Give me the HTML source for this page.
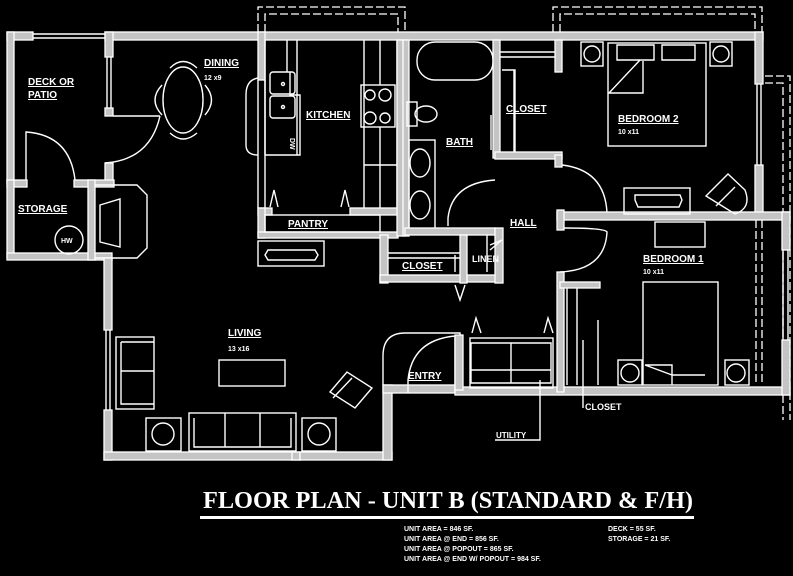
<!DOCTYPE html>
<html><head><meta charset="utf-8"><style>
html,body{margin:0;padding:0;background:#000;}
svg{display:block}
.w{fill:#c4c4c4;stroke:#fff;stroke-width:1.3}
.l{fill:none;stroke:#fff;stroke-width:1.4}
.d{fill:none;stroke:#fff;stroke-width:1.3;stroke-dasharray:8 3}
.t{font-family:"Liberation Sans",sans-serif;font-weight:bold;fill:#fff;font-size:10px;text-decoration:underline}
.s{font-family:"Liberation Sans",sans-serif;font-weight:bold;fill:#fff;font-size:7px}
</style></head><body>
<svg width="793" height="576" viewBox="0 0 793 576" xmlns="http://www.w3.org/2000/svg">
<rect width="793" height="576" fill="#000"/>
<path class="d" d="M258 32 V7 H405 V32 M265 32 V14 H398 V32"/>
<path class="d" d="M553 32 V7 H762 V32 M560 32 V14 H755 V32"/>
<path class="d" d="M765 76 H790 V420 M765 83 H783 V420"/>
<rect class="w" x="7" y="32" width="26" height="8"/>
<path class="l" d="M33 34 H105 M33 38 H105"/>
<rect class="w" x="7" y="32" width="7" height="150"/>
<rect class="w" x="105" y="32" width="658" height="8"/>
<rect class="w" x="755" y="32" width="8" height="52"/>
<rect class="w" x="755" y="165" width="8" height="52"/>
<path class="l" d="M757 84 V165 M761 84 V165"/>
<rect class="w" x="105" y="32" width="8" height="25"/>
<path class="l" d="M107 57 V110 M111 57 V110"/>
<rect class="w" x="105" y="108" width="8" height="8"/>
<rect class="w" x="105" y="163" width="8" height="22"/>
<path class="l" d="M113 116 H160 M105 163 Q150 160 160 116"/>
<path class="l" d="M26 182 V132 Q70 135 75 180"/>
<rect class="w" x="7" y="180" width="20" height="7"/>
<rect class="w" x="74" y="180" width="40" height="7"/>
<rect class="w" x="7" y="180" width="7" height="78"/>
<rect class="w" x="7" y="253" width="105" height="7"/>
<rect class="w" x="88" y="180" width="7" height="80"/>
<text class="t" x="18" y="212">STORAGE</text>
<circle class="l" cx="69" cy="240" r="14"/>
<text class="s" x="61" y="243">HW</text>
<path class="l" d="M95 185 H137 L147 195 V248 L137 258 H95 M100 205 L120 199 V247 L100 242 Z"/>
<rect class="w" x="104" y="258" width="8" height="72"/>
<path class="l" d="M106 330 V410 M110 330 V410"/>
<rect class="w" x="104" y="410" width="8" height="50"/>
<rect class="w" x="104" y="452" width="196" height="8"/>
<rect class="w" x="292" y="452" width="8" height="8"/>
<rect class="w" x="300" y="452" width="92" height="8" />
<rect class="w" x="383" y="385" width="9" height="75"/>
<rect class="w" x="383" y="385" width="76" height="8"/>
<path class="l" d="M383 385 V356 Q383 333 405 333 H460 V393"/>
<path class="l" d="M408 393 V380 Q412 340 455 336 V393"/>
<text class="t" x="408" y="379">ENTRY</text>
<rect class="w" x="455" y="387" width="335" height="8"/>
<rect class="w" x="455" y="335" width="8" height="55"/>
<rect class="l" x="470" y="338" width="83" height="50"/>
<path class="l" d="M471 343 H551 V383 H471 Z M511 343 V383 M471 370 H551"/>
<path class="l" d="M472 333 L476 318 L481 333 M544 333 L548 318 L553 333"/>
<path class="l" d="M540 380 V440 H495"/>
<text class="s" x="496" y="438" style="font-size:8px">UTILITY</text>
<rect class="w" x="258" y="32" width="7" height="48"/>
<path class="l" d="M258 80 V208 M265 80 V208"/>
<path class="l" d="M265 40 V155 M297 40 V155 M287 40 V72 M265 155 H300 V95 H290 V72"/>
<path class="l" d="M258 78 Q246 80 246 95 V145 Q246 155 258 155"/>
<rect class="l" x="270" y="72" width="25" height="22" rx="3"/>
<rect class="l" x="270" y="96" width="25" height="22" rx="3"/>
<circle class="l" cx="283" cy="84" r="1.5"/><circle class="l" cx="283" cy="107" r="1.5"/>
<text class="s" x="290" y="138" transform="rotate(90 290 138)">DW</text>
<rect class="l" x="361" y="85" width="34" height="42"/>
<circle class="l" cx="370" cy="95" r="5"/><circle class="l" cx="385" cy="95" r="6"/>
<circle class="l" cx="370" cy="118" r="6"/><circle class="l" cx="385" cy="118" r="5"/>
<path class="l" d="M364 40 V208 M397 40 V208 M380 40 V85 M380 127 V208 M364 165 H397 M364 85 V127"/>
<text class="t" x="306" y="118">KITCHEN</text>
<path class="l" d="M270 207 L274 190 L278 207 M341 207 L345 190 L349 207"/>
<rect class="w" x="258" y="208" width="14" height="7"/>
<rect class="w" x="350" y="208" width="50" height="7"/>
<rect class="w" x="258" y="208" width="7" height="30"/>
<rect class="w" x="258" y="232" width="140" height="6"/>
<rect class="l" x="265" y="215" width="115" height="17"/>
<text class="t" x="288" y="227">PANTRY</text>
<rect class="l" x="258" y="241" width="66" height="25"/>
<path class="l" d="M268 250 H315 L318 255 L315 260 H268 L265 255 Z"/>
<rect class="w" x="397" y="40" width="8" height="196"/>
<text class="t" x="204" y="66">DINING</text>
<text class="s" x="204" y="80">12 x9</text>
<ellipse class="l" cx="183" cy="100" rx="20" ry="33"/>
<path class="l" d="M170 68 Q183 55 197 68 M170 133 Q183 145 197 133 M162 85 Q148 100 162 115 M205 85 Q218 100 205 115"/>
<rect class="w" x="403" y="40" width="6" height="196"/>
<rect class="l" x="417" y="42" width="76" height="38" rx="18"/>
<ellipse class="l" cx="426" cy="114" rx="11" ry="8"/>
<rect class="l" x="407" y="102" width="10" height="24"/>
<rect class="l" x="409" y="140" width="26" height="92"/>
<ellipse class="l" cx="420" cy="163" rx="10" ry="14"/>
<ellipse class="l" cx="420" cy="205" rx="10" ry="14"/>
<text class="t" x="446" y="145">BATH</text>
<rect class="w" x="493" y="40" width="7" height="118"/>
<rect class="w" x="405" y="228" width="90" height="7"/>
<path class="l" d="M448 226 V218 Q452 183 495 180"/>
<path class="l" d="M491 115 V150"/>
<path class="l" d="M500 52 H555 M500 57 H555 M502 70 H515 V153 M514 70 V153"/>
<text class="t" x="506" y="112">CLOSET</text>
<rect class="w" x="555" y="40" width="7" height="32"/>
<rect class="w" x="495" y="152" width="67" height="7"/>
<rect class="w" x="555" y="155" width="7" height="12"/>
<path class="l" d="M562 165 Q605 170 607 213"/>
<text class="t" x="510" y="226">HALL</text>
<rect class="w" x="557" y="212" width="233" height="8"/>
<rect class="w" x="557" y="210" width="7" height="20"/>
<path class="l" d="M564 228 Q605 228 607 232 Q605 270 560 272"/>
<rect class="w" x="557" y="272" width="7" height="120"/>
<rect class="l" x="581" y="42" width="22" height="24"/>
<circle class="l" cx="592" cy="54" r="8"/>
<rect class="l" x="710" y="42" width="22" height="24"/>
<circle class="l" cx="721" cy="54" r="8"/>
<rect class="l" x="608" y="43" width="98" height="103"/>
<path class="l" d="M617 45 H654 V60 H617 Z M662 45 H695 V60 H662 Z M609 93 L640 60 M608 93 H643 V61"/>
<text class="t" x="618" y="122">BEDROOM 2</text>
<text class="s" x="618" y="134">10 x11</text>
<rect class="l" x="624" y="188" width="66" height="26"/>
<path class="l" d="M635 195 H680 L682 200 L679 207 H638 L635 200 Z"/>
<path class="l" d="M706 196 L728 174 L745 190 Q752 208 735 214 Z M716 206 L735 187"/>
<rect class="l" x="655" y="222" width="50" height="25"/>
<text class="t" x="643" y="262">BEDROOM 1</text>
<text class="s" x="643" y="274">10 x11</text>
<rect class="l" x="643" y="282" width="75" height="103"/>
<path class="l" d="M645 365 H672 V375 H705 M645 365 L672 375 M672 375 V385"/>
<rect class="l" x="618" y="360" width="24" height="25"/>
<circle class="l" cx="630" cy="373" r="9"/>
<rect class="l" x="725" y="360" width="24" height="25"/>
<circle class="l" cx="736" cy="373" r="9"/>
<rect class="w" x="782" y="212" width="8" height="38"/>
<path class="l" d="M783 250 V340 M788 250 V340"/>
<rect class="w" x="782" y="340" width="8" height="55"/>
<path class="d" d="M756 220 V385 M762 220 V385"/>
<rect class="w" x="560" y="282" width="40" height="6"/>
<path class="l" d="M567 288 V385 M577 288 V385 M598 320 V385 M583 340 V395 M583 395 V408"/>
<text class="s" x="585" y="410" style="font-size:9px">CLOSET</text>
<rect class="w" x="380" y="235" width="8" height="48"/>
<rect class="w" x="380" y="275" width="85" height="7"/>
<path class="l" d="M388 253 H460 M388 258 H460 M455 255 V272"/>
<text class="t" x="402" y="269">CLOSET</text>
<rect class="w" x="460" y="235" width="7" height="48"/>
<rect class="w" x="467" y="275" width="35" height="7"/>
<rect class="w" x="495" y="228" width="8" height="55"/>
<path class="l" d="M487 235 V272 M490 245 L502 240 L490 250"/>
<text class="s" x="472" y="262" style="font-size:9px">LINEN</text>
<path class="l" d="M455 285 L460 300 L465 285"/>
<text class="t" x="228" y="336">LIVING</text>
<text class="s" x="228" y="351">13 x16</text>
<rect class="l" x="219" y="360" width="66" height="26"/>
<rect class="l" x="116" y="337" width="38" height="72"/>
<path class="l" d="M121 342 H154 M121 342 V404 H154 M121 371 H154"/>
<rect class="l" x="146" y="418" width="35" height="33"/>
<circle class="l" cx="163" cy="434" r="11"/>
<rect class="l" x="302" y="418" width="34" height="33"/>
<circle class="l" cx="319" cy="434" r="11"/>
<rect class="l" x="189" y="413" width="107" height="38"/>
<path class="l" d="M194 418 V447 H291 V418 M225 413 V447 M260 413 V447"/>
<path class="l" d="M330 392 L347 372 L372 388 L355 408 Z M333 398 L352 378"/>
<text class="t" x="28" y="85">DECK OR</text>
<text class="t" x="28" y="98">PATIO</text>
<text x="203" y="508" textLength="490" lengthAdjust="spacingAndGlyphs" style="font-family:'Liberation Serif',serif;font-weight:bold;font-size:24px;fill:#fff">FLOOR PLAN - UNIT B (STANDARD &amp; F/H)</text>
<rect x="200" y="516" width="494" height="3" fill="#fff"/>
<text class="s" x="404" y="531">UNIT AREA = 846 SF.</text>
<text class="s" x="404" y="541">UNIT AREA @ END = 856 SF.</text>
<text class="s" x="404" y="551">UNIT AREA @ POPOUT = 865 SF.</text>
<text class="s" x="404" y="561">UNIT AREA @ END W/ POPOUT = 984 SF.</text>
<text class="s" x="608" y="531">DECK = 55 SF.</text>
<text class="s" x="608" y="541">STORAGE = 21 SF.</text>
</svg>
</body></html>
